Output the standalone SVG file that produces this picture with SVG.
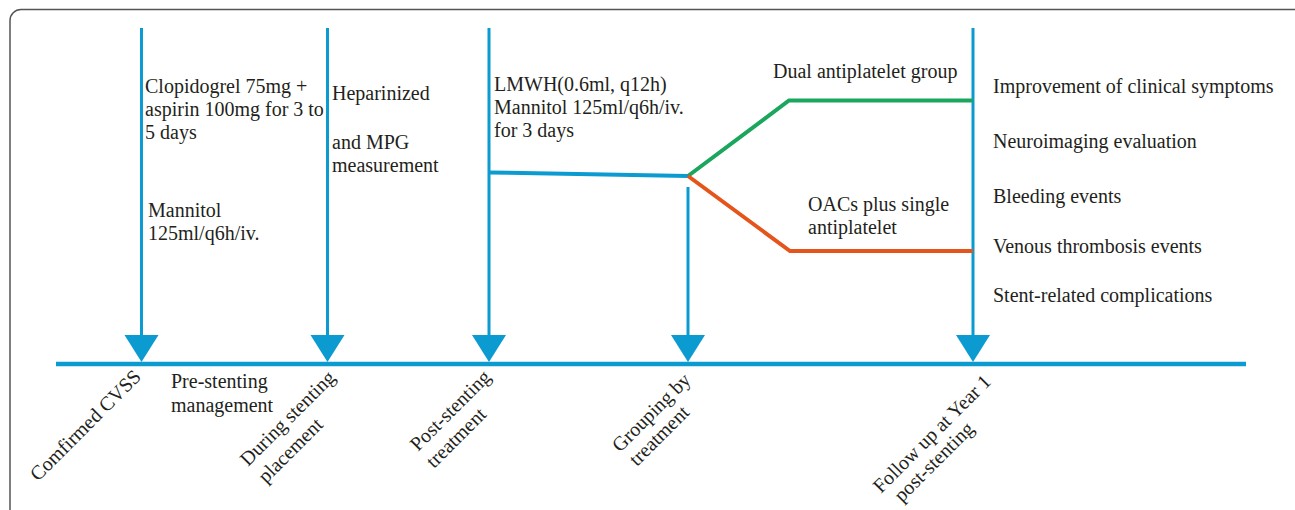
<svg xmlns="http://www.w3.org/2000/svg" width="1295" height="510" viewBox="0 0 1295 510">
<style>
text{font-family:"Liberation Serif","Times New Roman",serif;font-size:20px;fill:#231f20}
.v{stroke:#0b9bd1;stroke-width:3;fill:none}
.ah{fill:#0b9bd1}
</style>
<rect x="10" y="9.5" width="1295" height="620" rx="11" fill="none" stroke="#555" stroke-width="1.5"/>
<g id="connectors">
<line x1="56" y1="364" x2="1246" y2="364" stroke="#0b9bd1" stroke-width="4.5"/>
<line class="v" x1="141.5" y1="28" x2="141.5" y2="340"/>
<line class="v" x1="327.5" y1="28" x2="327.5" y2="340"/>
<line class="v" x1="489" y1="28" x2="489" y2="340"/>
<line class="v" x1="688" y1="187" x2="688" y2="340"/>
<line class="v" x1="973" y1="28" x2="973" y2="340"/>
<polygon class="ah" points="124.5,335 158.5,335 141.5,362"/>
<polygon class="ah" points="310.5,335 344.5,335 327.5,362"/>
<polygon class="ah" points="472,335 506,335 489,362"/>
<polygon class="ah" points="671,335 705,335 688,362"/>
<polygon class="ah" points="956,335 990,335 973,362"/>
<polyline points="489,172.5 688,176" fill="none" stroke="#0b9bd1" stroke-width="4"/>
<polyline points="688,176 789,100.5 973,100.5" fill="none" stroke="#1aa65c" stroke-width="4"/>
<polyline points="688,176 790,251 973,251" fill="none" stroke="#e5541b" stroke-width="4"/>
</g>
<g id="node-confirmed">
<text transform="translate(38,482) rotate(-45)">Comfirmed CVSS</text>
</g>
<g id="node-pre">
<text x="145" y="93">Clopidogrel 75mg +</text>
<text x="145" y="116">aspirin 100mg for 3 to</text>
<text x="145" y="139">5 days</text>
<text x="148" y="217">Mannitol</text>
<text x="148" y="240">125ml/q6h/iv.</text>
<text x="171" y="388">Pre-stenting</text>
<text x="171" y="412">management</text>
</g>
<g id="node-during">
<text x="332" y="100">Heparinized</text>
<text x="332" y="149">and MPG</text>
<text x="332" y="172">measurement</text>
<text transform="translate(248,467) rotate(-45)">During stenting</text>
<text transform="translate(266,484) rotate(-45)">placement</text>
</g>
<g id="node-post">
<text x="494" y="91">LMWH(0.6ml, q12h)</text>
<text x="494" y="114">Mannitol 125ml/q6h/iv.</text>
<text x="494" y="137">for 3 days</text>
<text transform="translate(418,452) rotate(-45)">Post-stenting</text>
<text transform="translate(434,469) rotate(-45)">treatment</text>
</g>
<g id="node-grouping">
<text transform="translate(620,453) rotate(-45)">Grouping by</text>
<text transform="translate(637,467) rotate(-45)">treatment</text>
</g>
<g id="node-dual">
<text x="773" y="78">Dual antiplatelet group</text>
</g>
<g id="node-oac">
<text x="808" y="211">OACs plus single</text>
<text x="808" y="234">antiplatelet</text>
</g>
<g id="node-followup">
<text x="993" y="93">Improvement of clinical symptoms</text>
<text x="993" y="148">Neuroimaging evaluation</text>
<text x="993" y="203">Bleeding events</text>
<text x="993" y="253">Venous thrombosis events</text>
<text x="993" y="302">Stent-related complications</text>
<text transform="translate(881,494) rotate(-45)">Follow up at Year 1</text>
<text transform="translate(902,503) rotate(-45)">post-stenting</text>
</g>
</svg>
